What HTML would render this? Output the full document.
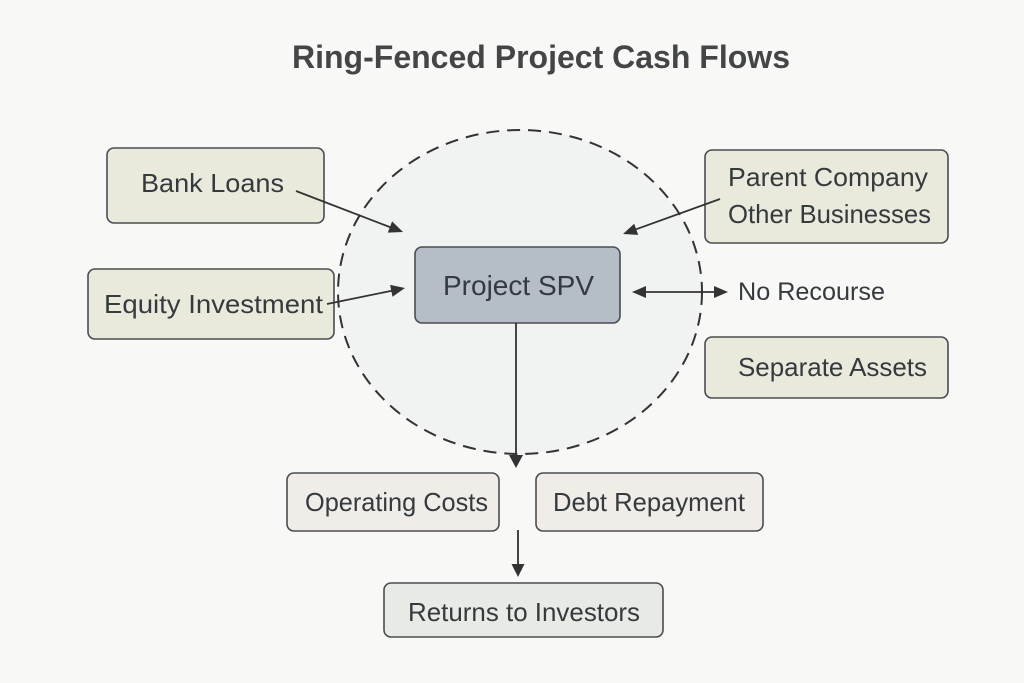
<!DOCTYPE html>
<html>
<head>
<meta charset="utf-8">
<style>
  html,body{margin:0;padding:0;background:#f8f8f7;}
  svg{display:block;}
  text{font-family:"Liberation Sans",sans-serif;fill:#353a3e;}
</style>
</head>
<body>
<svg width="1024" height="683" viewBox="0 0 1024 683" xmlns="http://www.w3.org/2000/svg">
  <rect x="0" y="0" width="1024" height="683" fill="#f8f8f7"/>

  <!-- Title -->
  <text x="292" y="68" font-size="32" font-weight="bold" style="fill:#434547" textLength="498" lengthAdjust="spacingAndGlyphs">Ring-Fenced Project Cash Flows</text>

  <!-- Ring-fence ellipse -->
  <ellipse cx="520" cy="292" rx="182" ry="162" fill="#f1f2f2" stroke="#333" stroke-width="2" stroke-dasharray="13 8"/>

  <!-- Boxes -->
  <g stroke="#4a4d50" stroke-width="1.6">
    <rect x="107" y="148" width="217" height="75" rx="7" fill="#e9eadb"/>
    <rect x="88" y="269" width="246" height="70" rx="7" fill="#e9eadb"/>
    <rect x="705" y="150" width="243" height="93" rx="7" fill="#e9eadb"/>
    <rect x="705" y="337" width="243" height="61" rx="7" fill="#e9eadb"/>
    <rect x="415" y="247" width="205" height="76" rx="7" fill="#b5bdc6"/>
    <rect x="287" y="473" width="212" height="58" rx="7" fill="#f0ede8"/>
    <rect x="536" y="473" width="227" height="58" rx="7" fill="#f0ede8"/>
    <rect x="384" y="583" width="279" height="54" rx="7" fill="#e8ebe5"/>
  </g>

  <!-- Labels -->
  <text x="141" y="192" font-size="26" textLength="143" lengthAdjust="spacingAndGlyphs">Bank Loans</text>
  <text x="104" y="313" font-size="26" textLength="219" lengthAdjust="spacingAndGlyphs">Equity Investment</text>
  <text x="443" y="295" font-size="28" textLength="151" lengthAdjust="spacingAndGlyphs">Project SPV</text>
  <text x="728" y="186" font-size="26" textLength="200" lengthAdjust="spacingAndGlyphs">Parent Company</text>
  <text x="728" y="223" font-size="26" textLength="203" lengthAdjust="spacingAndGlyphs">Other Businesses</text>
  <text x="738" y="300" font-size="25" textLength="147" lengthAdjust="spacingAndGlyphs">No Recourse</text>
  <text x="738" y="376" font-size="26" textLength="189" lengthAdjust="spacingAndGlyphs">Separate Assets</text>
  <text x="305" y="511" font-size="26" textLength="183" lengthAdjust="spacingAndGlyphs">Operating Costs</text>
  <text x="553" y="511" font-size="26" textLength="192" lengthAdjust="spacingAndGlyphs">Debt Repayment</text>
  <text x="408" y="621" font-size="26" textLength="232" lengthAdjust="spacingAndGlyphs">Returns to Investors</text>

  <!-- Connectors -->
  <g stroke="#333" stroke-width="1.8" fill="none">
    <line x1="296" y1="191" x2="391" y2="227.5"/>
    <line x1="327" y1="304" x2="392" y2="290.7"/>
    <line x1="720" y1="199" x2="636" y2="229.3"/>
    <line x1="645" y1="292" x2="715" y2="292"/>
    <line x1="516" y1="323" x2="516" y2="456"/>
    <line x1="518" y1="530" x2="518" y2="565"/>
  </g>
  <g fill="#333">
    <polygon points="403,232 392.1,221.4 387.8,232.6"/>
    <polygon points="405,288 392.5,296.7 390.1,284.9"/>
    <polygon points="623,234 634.2,223.7 638.2,234.9"/>
    <polygon points="632,292 646,286 646,298"/>
    <polygon points="728,292 714,286 714,298"/>
    <polygon points="516,468 509,455 523,455"/>
    <polygon points="518,577 511.5,564 524.5,564"/>
  </g>
</svg>
</body>
</html>
